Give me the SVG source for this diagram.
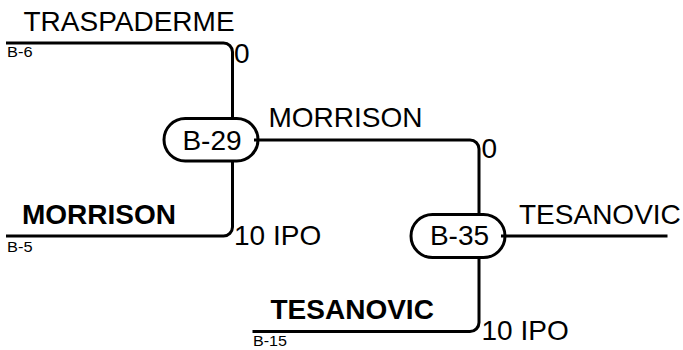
<svg xmlns="http://www.w3.org/2000/svg" width="683" height="350" viewBox="0 0 683 350">
<style>
.lbl{font-family:"Liberation Sans",Arial,sans-serif;font-size:28px;fill:#000}
.b{font-weight:bold}
.sm{font-family:"Liberation Sans",Arial,sans-serif;font-size:14px;fill:#000}
.node rect{fill:#fff;stroke:#000;stroke-width:3}
.conn path{fill:none;stroke:#000;stroke-width:3}
</style>
<rect width="683" height="350" fill="#fff"/>
<g id="node-B-29" class="node">
<rect x="164" y="118.5" width="94" height="42.5" rx="21.25"/>
<text class="lbl" x="212" y="150" text-anchor="middle">B-29</text>
</g>
<g id="node-B-35" class="node">
<rect x="411" y="214.5" width="94" height="43" rx="21.5"/>
<text class="lbl" x="459.5" y="245" text-anchor="middle">B-35</text>
</g>
<g id="connectors" class="conn">
<path d="M6 43 H223.5 A9 9 0 0 1 232.5 52 V118.5"/>
<path d="M6 236 H223.5 A9 9 0 0 0 232.5 227 V161"/>
<path d="M254 140 H470 A9 9 0 0 1 479 149 V214.5"/>
<path d="M252.5 331.5 H470 A9 9 0 0 0 479 322.5 V257.5"/>
<path d="M501 236 H667.5"/>
</g>
<g id="labels">
<text class="lbl" x="23.5" y="31">TRASPADERME</text>
<text class="sm" x="7" y="57" textLength="25.5" lengthAdjust="spacingAndGlyphs">B-6</text>
<text class="lbl" x="234" y="63">0</text>
<text class="lbl" x="268.5" y="127">MORRISON</text>
<text class="lbl" x="481.5" y="158">0</text>
<text class="lbl b" x="22" y="224">MORRISON</text>
<text class="sm" x="7" y="252" textLength="25.5" lengthAdjust="spacingAndGlyphs">B-5</text>
<text class="lbl" x="234" y="244.5">10 IPO</text>
<text class="lbl" x="519" y="223.5">TESANOVIC</text>
<text class="lbl b" x="270.5" y="319">TESANOVIC</text>
<text class="sm" x="253" y="346" textLength="34" lengthAdjust="spacingAndGlyphs">B-15</text>
<text class="lbl" x="481.5" y="339.5">10 IPO</text>
</g>
</svg>
